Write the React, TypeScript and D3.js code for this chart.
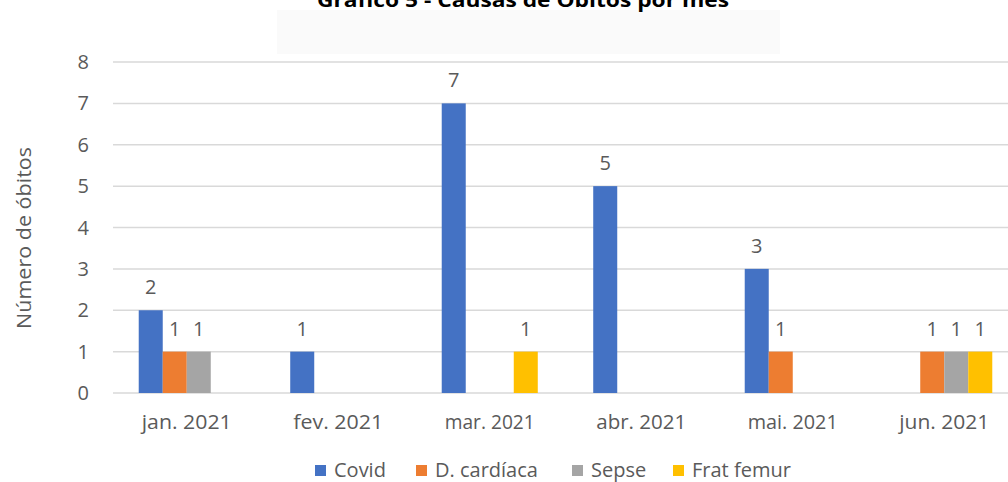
import React from "react";
import * as d3 from "d3";

const months = ["jan. 2021", "fev. 2021", "mar. 2021", "abr. 2021", "mai. 2021", "jun. 2021"];
const seriesNames = ["Covid", "D. cardíaca", "Sepse", "Frat femur"];
const covid = [2, 1, 7, 5, 3, 0];
const cardiaca = [1, 0, 0, 0, 1, 1];
const sepse = [1, 0, 0, 0, 0, 1];
const fratFemur = [0, 0, 1, 0, 0, 1];
const yTicks = [0, 1, 2, 3, 4, 5, 6, 7, 8];
const colors = ["#4472C4", "#ED7D31", "#A5A5A5", "#FFC000"];

const seriesValues = [covid, cardiaca, sepse, fratFemur];

export default function App() {
  const W = 1008, H = 482;
  const x0 = d3.scaleBand<string>().domain(months).range([111, 1020]).paddingInner(0.366).paddingOuter(0.183);
  const x1 = d3.scaleBand<string>().domain(seriesNames).range([0, x0.bandwidth()]);
  const y = d3.scaleLinear().domain([0, 8]).range([393, 62]);
  const font = "'Open Sans', Calibri, sans-serif";
  const gray = "#5a5a5a";

  const legendX = [315, 416, 572, 673];

  return (
    <svg width={W} height={H} style={{ position: "absolute", left: 0, top: 0, background: "#fff" }} fontFamily={font}>
      <rect x={277} y={10} width={503} height={44} fill="#fafafa" />
      <text x={523} y={7} textAnchor="middle" fontSize={20} fontWeight="bold" fill="#000" textLength={412} lengthAdjust="spacingAndGlyphs">
        Gráfico 5 - Causas de Óbitos por mês
      </text>
      {yTicks.map((t) => (
        <g key={t}>
          <line x1={113} x2={W} y1={y(t)} y2={y(t)} stroke="#d9d9d9" strokeWidth={1.5} />
          <text x={89} y={y(t) + 7} textAnchor="end" fontSize={20} fill={gray}>{t}</text>
        </g>
      ))}
      <text transform={`translate(31,238) rotate(-90)`} textAnchor="middle" fontSize={20} fill={gray} textLength={182} lengthAdjust="spacingAndGlyphs">Número de óbitos</text>
      {months.map((m, i) => (
        <g key={m} transform={`translate(${x0(m)},0)`}>
          {seriesNames.map((s, j) => {
            const v = seriesValues[j][i];
            if (!v) return null;
            const bx = x1(s)!;
            return (
              <g key={s}>
                <rect x={bx} y={y(v)} width={x1.bandwidth()} height={y(0) - y(v)} fill={colors[j]} />
                <text x={bx + x1.bandwidth() / 2} y={y(v) - 16} textAnchor="middle" fontSize={20} fill={gray}>{v}</text>
              </g>
            );
          })}
          <text x={x0.bandwidth() / 2} y={429} textAnchor="middle" fontSize={20} fill={gray} textLength={90} lengthAdjust="spacingAndGlyphs">{m}</text>
        </g>
      ))}
      {seriesNames.map((s, j) => (
        <g key={s}>
          <rect x={legendX[j]} y={465} width={11} height={11} fill={colors[j]} />
          <text x={legendX[j] + 19} y={477} fontSize={20} fill={gray}>{s}</text>
        </g>
      ))}
    </svg>
  );
}
